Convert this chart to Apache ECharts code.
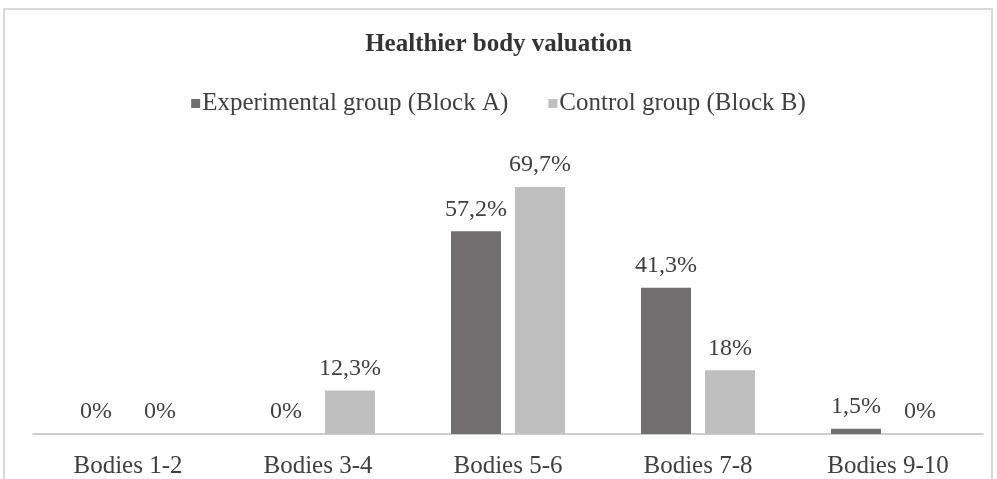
<!DOCTYPE html>
<html>
<head>
<meta charset="utf-8">
<script src="https://cdn.jsdelivr.net/npm/echarts@6/dist/echarts.min.js"></script>
<style>
  html, body { margin: 0; padding: 0; background: #fff; }
  #chart { width: 997px; height: 479px; }
</style>
</head>
<body>
<div id="chart"></div>
<script>
const categories = ["Bodies 1-2", "Bodies 3-4", "Bodies 5-6", "Bodies 7-8", "Bodies 9-10"];
const experimental = [0, 0, 57.2, 41.3, 1.5];
const control = [0, 12.3, 69.7, 18, 0];
const seriesNames = ["Experimental group (Block A)", "Control group (Block B)"];

const serif = "Liberation Serif, Times New Roman, serif";
const fmt = (p) => String(p.value).replace(".", ",") + "%";

const chart = echarts.init(document.getElementById("chart"));
chart.setOption({
  animation: false,
  graphic: [
    {
      type: "rect",
      shape: { x: 4, y: 9, width: 988, height: 490 },
      style: { fill: "none", stroke: "#d9d9d9", lineWidth: 2 },
      silent: true,
    },
  ],
  title: {
    text: "Healthier body valuation",
    left: "center",
    top: 27,
    textStyle: { fontFamily: serif, fontSize: 25, fontWeight: "bold", color: "#333" },
  },
  legend: {
    top: 86,
    left: "center",
    itemWidth: 9,
    itemHeight: 9,
    itemGap: 40,
    icon: "rect",
    textStyle: { fontFamily: serif, fontSize: 25, color: "#404040", padding: [0, 0, 0, -3] },
    data: seriesNames,
  },
  grid: { left: 33, right: 14, top: 150.5, bottom: 45, containLabel: false },
  xAxis: {
    type: "category",
    data: categories,
    axisLine: { lineStyle: { color: "#bfbfbf", width: 1.5 } },
    axisTick: { show: false },
    axisLabel: { fontFamily: serif, fontSize: 25, color: "#404040", margin: 20 },
  },
  yAxis: {
    type: "value",
    min: 0,
    max: 80,
    show: false,
    splitLine: { show: false },
  },
  series: [
    {
      name: seriesNames[0],
      type: "bar",
      data: experimental,
      barWidth: 50,
      barGap: "28%",
      itemStyle: { color: "#706e6f" },
      label: { show: true, position: "top", distance: 10, formatter: fmt,
        fontFamily: serif, fontSize: 24, color: "#404040" },
    },
    {
      name: seriesNames[1],
      type: "bar",
      data: control,
      barWidth: 50,
      itemStyle: { color: "#bfbfbf" },
      label: { show: true, position: "top", distance: 10, formatter: fmt,
        fontFamily: serif, fontSize: 24, color: "#404040" },
    },
  ],
});
</script>
</body>
</html>
